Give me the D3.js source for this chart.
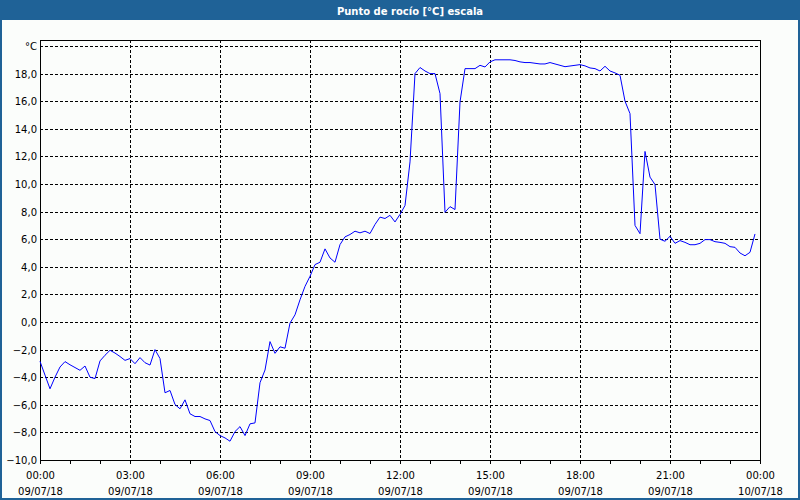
<!DOCTYPE html>
<html>
<head>
<meta charset="utf-8">
<script src="https://cdn.jsdelivr.net/npm/d3@7"></script>
<style>
  html, body { margin: 0; padding: 0; background: #fbfdfb; }
  svg { display: block; }
  text { font-family: "DejaVu Sans", Verdana, sans-serif; }
</style>
</head>
<body>
<svg id="chart" width="800" height="500"></svg>
<script>
// ---- data ----
const title = "Punto de rocío [°C] escala";
const unitLabel = "°C";
const startTime = "2018-07-09T00:00:00";
const endTime = "2018-07-10T00:00:00";
const sampleMinutes = 10;
// dew point readings, every 10 minutes from 00:00
const dewPoint = [
  -2.85, -3.85, -4.84, -4.0, -3.26, -2.87, -3.1, -3.3, -3.5, -3.19, -4.0, -4.1,
  -2.82, -2.41, -2.05, -2.25, -2.5, -2.78, -2.65, -3.02, -2.58, -2.95, -3.12, -2.0,
  -2.65, -5.13, -4.96, -5.98, -6.29, -5.64, -6.65, -6.85, -6.85, -7.02, -7.14, -7.94,
  -8.23, -8.4, -8.64, -7.94, -7.58, -8.23, -7.38, -7.31, -4.4, -3.48, -1.42, -2.27,
  -1.8, -1.9, -0.08, 0.52, 1.61, 2.58, 3.31, 4.16, 4.33, 5.3, 4.64, 4.33,
  5.61, 6.17, 6.34, 6.58, 6.46, 6.58, 6.41, 7.07, 7.6, 7.5, 7.73, 7.25,
  7.8, 8.44, 11.6, 18.0, 18.44, 18.19, 18.0, 18.0, 16.55, 7.95, 8.36, 8.15,
  15.94, 18.36, 18.36, 18.36, 18.6, 18.48, 18.85, 19.0, 19.0, 19.0, 19.0, 18.95,
  18.85, 18.8, 18.8, 18.75, 18.7, 18.7, 18.8, 18.7, 18.6, 18.5, 18.55, 18.6,
  18.65, 18.56, 18.41, 18.36, 18.19, 18.53, 18.19, 18.05, 17.88, 16.0, 15.1, 7.0,
  6.4, 12.36, 10.5, 9.96, 6.0, 5.85, 6.21, 5.7, 5.9, 5.77, 5.6, 5.6,
  5.7, 5.97, 5.97, 5.82, 5.77, 5.7, 5.46, 5.41, 5.0, 4.8, 5.05, 6.38
];
const yTicks = [-10, -8, -6, -4, -2, 0, 2, 4, 6, 8, 10, 12, 14, 16, 18, 20];
const xMajorHours = 3;
const xMinorHours = 1;

// ---- layout ----
const W = 800, H = 500;
const plot = { left: 40, right: 760, top: 40, bottom: 460 };
const yTop = 46;
const blue = "#1f6297";

const svg = d3.select("#chart");
const parse = d3.timeParse("%Y-%m-%dT%H:%M:%S");
const t0 = parse(startTime), t1 = parse(endTime);

const x = d3.scaleTime().domain([t0, t1]).range([plot.left, plot.right]);
const y = d3.scaleLinear().domain([-10, 20]).range([plot.bottom, yTop]);

const data = dewPoint.map((v, i) => ({ t: d3.timeMinute.offset(t0, i * sampleMinutes), v }));

// background & border
svg.append("rect").attr("x", 1).attr("y", 1).attr("width", W - 2).attr("height", H - 2)
  .attr("fill", "#fbfdfb").attr("stroke", blue).attr("stroke-width", 2);
svg.append("rect").attr("x", 0).attr("y", 0).attr("width", W).attr("height", 20).attr("fill", blue);
svg.append("text").attr("x", 410).attr("y", 14.5).attr("text-anchor", "middle")
  .attr("fill", "#ffffff").attr("font-weight", "bold").attr("font-size", 10)
  .text(title);

// horizontal grid
const gridH = svg.append("g");
gridH.selectAll("line").data(yTicks).join("line")
  .attr("x1", plot.left).attr("x2", plot.right)
  .attr("y1", d => Math.round(y(d)) + 0.5).attr("y2", d => Math.round(y(d)) + 0.5)
  .attr("stroke", "#000").attr("stroke-width", 1).attr("stroke-dasharray", "3,2");

// vertical grid
const majorTimes = d3.timeHour.every(xMajorHours).range(t0, d3.timeMinute.offset(t1, 1));
const gridV = svg.append("g");
gridV.selectAll("line").data(majorTimes.slice(1, -1)).join("line")
  .attr("x1", d => Math.round(x(d)) + 0.5).attr("x2", d => Math.round(x(d)) + 0.5)
  .attr("y1", plot.top).attr("y2", plot.bottom)
  .attr("stroke", "#000").attr("stroke-width", 1).attr("stroke-dasharray", "3,2");

// frame
svg.append("rect").attr("x", plot.left + 0.5).attr("y", plot.top + 0.5)
  .attr("width", plot.right - plot.left).attr("height", plot.bottom - plot.top)
  .attr("fill", "none").attr("stroke", "#000").attr("stroke-width", 1);

// x axis ticks
const minorTimes = d3.timeHour.every(xMinorHours).range(t0, d3.timeMinute.offset(t1, 1));
svg.append("g").selectAll("line").data(minorTimes).join("line")
  .attr("x1", d => Math.round(x(d)) + 0.5).attr("x2", d => Math.round(x(d)) + 0.5)
  .attr("y1", plot.bottom).attr("y2", plot.bottom + 4)
  .attr("stroke", "#000");

const fmtTime = d3.timeFormat("%H:%M");
const fmtDate = d3.timeFormat("%d/%m/%y");
const xl = svg.append("g").attr("font-size", 10).attr("fill", "#000").attr("text-anchor", "middle");
const lbl = xl.selectAll("text").data(majorTimes).join("text")
  .attr("x", d => x(d) + 0.5);
lbl.append("tspan").attr("y", 479).attr("x", d => x(d) + 0.5).text(d => fmtTime(d));
lbl.append("tspan").attr("y", 495).attr("x", d => x(d) + 0.5).text(d => fmtDate(d));

// y labels
const fmtY = v => d3.format(".1f")(v).replace(".", ",");
svg.append("g").attr("font-size", 10).attr("text-anchor", "end").selectAll("text")
  .data(yTicks).join("text")
  .attr("x", 37).attr("y", d => Math.round(y(d)) + 4)
  .text(d => d === 20 ? unitLabel : fmtY(d));

// line
const line = d3.line().x(d => x(d.t)).y(d => y(d.v));
svg.append("path").datum(data).attr("d", line)
  .attr("fill", "none").attr("stroke", "#0000ff").attr("stroke-width", 1);
</script>
</body>
</html>
